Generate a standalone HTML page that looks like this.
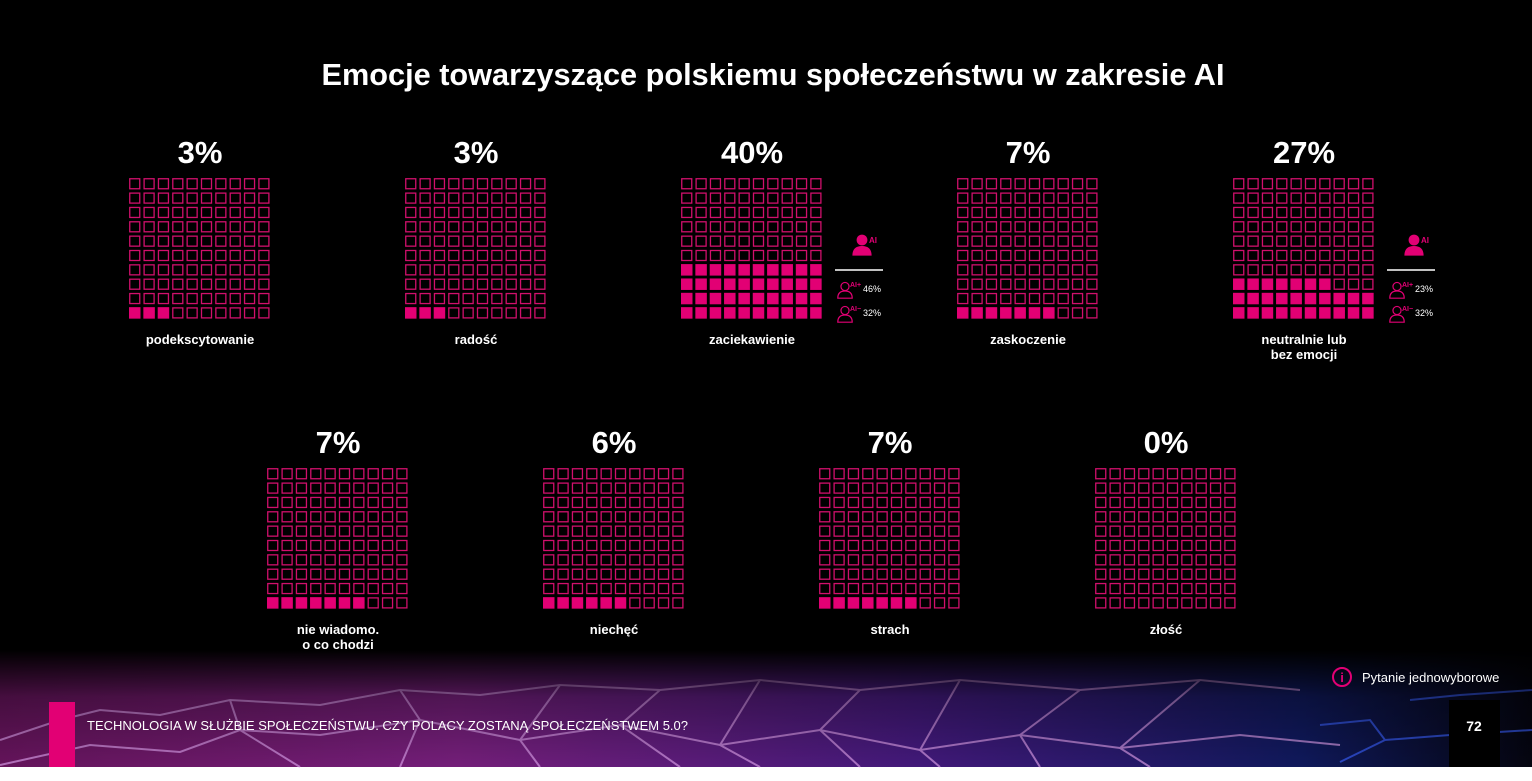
<!DOCTYPE html>
<html><head><meta charset="utf-8"><style>
html,body{margin:0;padding:0;background:#fff;}
body{width:1532px;height:776px;overflow:hidden;font-family:"Liberation Sans",sans-serif;}
</style></head><body>
<svg id="chart" width="1532" height="776" xmlns="http://www.w3.org/2000/svg" font-family="Liberation Sans, sans-serif">
<defs>
<linearGradient id="bgband" x1="0" y1="0" x2="1" y2="0">
<stop offset="0" stop-color="#6a1560"/><stop offset="0.3" stop-color="#7a2080"/><stop offset="0.6" stop-color="#451a80"/><stop offset="0.85" stop-color="#101a60"/><stop offset="1" stop-color="#050510"/>
</linearGradient>
<linearGradient id="fade" x1="0" y1="0" x2="0" y2="1">
<stop offset="0" stop-color="#000" stop-opacity="1"/><stop offset="0.4" stop-color="#000" stop-opacity="0.35"/><stop offset="1" stop-color="#000" stop-opacity="0.05"/>
</linearGradient>
</defs>
<rect x="0" y="0" width="1532" height="767" fill="#000"/>
<g>
<rect x="0" y="650" width="1532" height="117" fill="url(#bgband)"/>
<g stroke="#e0a0f0" stroke-width="2" fill="none" opacity="0.7">
<polyline points="0,740 60,720 100,710 160,715 230,700 320,705 400,690 480,695 560,685 660,690 760,680 860,690 960,680 1080,690 1200,680 1300,690"/>
<polyline points="0,765 90,745 180,752 240,730 320,735 420,720 520,740 620,725 720,745 820,730 920,750 1020,735 1120,748 1240,735 1340,745"/>
<polyline points="230,700 240,730 300,767"/><polyline points="400,690 420,720 400,767"/><polyline points="560,685 520,740 540,767"/>
<polyline points="760,680 720,745 760,767"/><polyline points="960,680 920,750 940,767"/><polyline points="1200,680 1120,748 1150,767"/>
<polyline points="660,690 620,725 680,767"/><polyline points="860,690 820,730 860,767"/><polyline points="1080,690 1020,735 1040,767"/>
</g>
<g stroke="#3a60ff" stroke-width="2" fill="none" opacity="0.7">
<polyline points="1320,725 1370,720 1385,740 1450,735 1532,730"/><polyline points="1340,762 1385,740"/><polyline points="1410,700 1460,695 1532,690"/>
</g>
<rect x="0" y="650" width="1532" height="117" fill="url(#fade)"/>
</g>
<text x="773" y="85" text-anchor="middle" fill="#fff" font-size="31" font-weight="bold" textLength="903" lengthAdjust="spacingAndGlyphs">Emocje towarzyszące polskiemu społeczeństwu w zakresie AI</text>
<g id="waffles"></g>
<g id="sidebars"></g>
<g>
<rect x="49" y="702" width="26" height="65" fill="#e20074"/>
<text x="87" y="730" fill="#fff" font-size="13" textLength="601" lengthAdjust="spacingAndGlyphs">TECHNOLOGIA W SŁUŻBIE SPOŁECZEŃSTWU. CZY POLACY ZOSTANĄ SPOŁECZEŃSTWEM 5.0?</text>
<rect x="1449" y="700" width="51" height="67" fill="#000"/>
<text x="1474" y="731" text-anchor="middle" fill="#fff" font-size="14" font-weight="bold">72</text>
<circle cx="1342" cy="677" r="9" fill="none" stroke="#e20074" stroke-width="2"/>
<text x="1342" y="682" text-anchor="middle" fill="#e20074" font-size="13" font-weight="bold">i</text>
<text x="1362" y="682" fill="#fff" font-size="13">Pytanie jednowyborowe</text>
</g>
</svg>
<script>
const categories = ["podekscytowanie","radość","zaciekawienie","zaskoczenie","neutralnie lub|bez emocji","nie wiadomo.|o co chodzi","niechęć","strach","złość"];
const values = [3,3,40,7,27,7,6,7,0];
const sideLabels = ["","","AI","","AI","","","",""];
const sidePlus = [null,null,46,null,23,null,null,null,null];
const sideMinus = [null,null,32,null,32,null,null,null,null];
const NS="http://www.w3.org/2000/svg";
const PINK="#e20074";
function el(t,a,p){const e=document.createElementNS(NS,t);for(const k in a)e.setAttribute(k,a[k]);p.appendChild(e);return e;}
function centerX(i){return i<5?200+276*i:338+276*(i-5);}
function topY(i){return i<5?178:468;}
const pitch=14.35, cell=11;
const wg=document.getElementById('waffles');
values.forEach((v,i)=>{
  const g=el('g',{},wg);
  
  
  const x0=centerX(i)-71, y0=topY(i);
  const pt=el('text',{x:centerX(i),y:y0-15,'text-anchor':'middle',fill:'#fff','font-size':31,'font-weight':'bold'},g);
  pt.textContent=v+'%';
  
  
  for(let k=0;k<100;k++){
    const r=9-Math.floor(k/10), c=k%10;
    const filled=k<v;
    const rc=el('rect',{x:x0+c*pitch+(filled?0:0.75),y:y0+r*pitch+(filled?0:0.75),width:filled?cell+0.5:cell-1,height:filled?cell+0.5:cell-1,fill:filled?PINK:'none',stroke:filled?'none':'#d0106c','stroke-width':1.3},g);
    
    
  }
  const lines=categories[i].split('|');
  lines.forEach((ln,j)=>{
    const t=el('text',{x:centerX(i),y:y0+166+j*15,'text-anchor':'middle',fill:'#fff','font-size':13,'font-weight':'bold'},g);
    t.textContent=ln;
    
    
  });
});
function person(p,cx,cy,s,filled){
  el('circle',{cx:cx,cy:cy-5*s,r:4.5*s,fill:filled?PINK:'none',stroke:PINK,'stroke-width':filled?0:1.2},p);
  el('path',{d:`M${cx-8*s},${cy+8*s} Q${cx-8*s},${cy} ${cx},${cy} Q${cx+8*s},${cy} ${cx+8*s},${cy+8*s} Z`,fill:filled?PINK:'none',stroke:PINK,'stroke-width':filled?0:1.2},p);
}
const sg=document.getElementById('sidebars');
values.forEach((v,i)=>{
  if(!sideLabels[i])return;
  const g=el('g',{},sg);
  
  
  const bx=centerX(i)+83, by=topY(i);
  person(g,bx+27,by+68,1.2,true);
  el('text',{x:bx+34,y:by+65,fill:PINK,'font-size':8,'font-weight':'bold'},g).textContent='AI';
  el('line',{x1:bx,y1:by+92,x2:bx+48,y2:by+92,stroke:'#fff','stroke-width':1.5},g);
  person(g,bx+10,by+113,0.9,false);
  el('text',{x:bx+15,y:by+109,fill:PINK,'font-size':7,'font-weight':'bold'},g).textContent='AI+';
  el('text',{x:bx+28,y:by+114,fill:'#fff','font-size':9},g).textContent=sidePlus[i]+'%';
  person(g,bx+10,by+137,0.9,false);
  el('text',{x:bx+15,y:by+133,fill:PINK,'font-size':7,'font-weight':'bold'},g).textContent='AI−';
  el('text',{x:bx+28,y:by+138,fill:'#fff','font-size':9},g).textContent=sideMinus[i]+'%';
});
</script>
</body></html>
